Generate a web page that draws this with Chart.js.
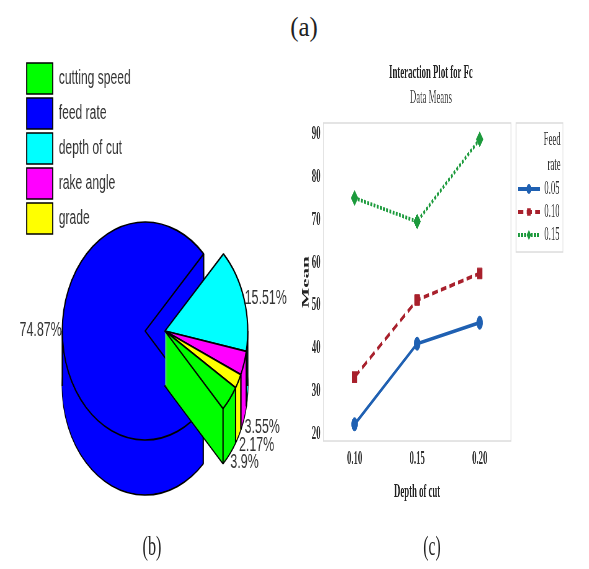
<!DOCTYPE html>
<html><head><meta charset="utf-8">
<script src="https://cdn.jsdelivr.net/npm/chart.js@4.4.1/dist/chart.umd.min.js"></script>
<style>
html,body{margin:0;padding:0;background:#fff;overflow:hidden;width:589px;height:569px;}
#wrap{position:relative;width:589px;height:569px;overflow:hidden;background:#fff;}
.panel{position:absolute;transform-origin:0 0;}
.panel canvas{display:block;}
.tag{position:absolute;font-family:"Liberation Serif","Times New Roman",serif;font-size:27px;color:#222;line-height:30px;white-space:nowrap;}
</style></head><body>
<div id="wrap">
 <div class="tag" style="left:304px;top:27px;transform:translate(-50%,-50%) scaleX(0.92)">(a)</div>
 <div class="panel" style="left:0;top:50px;transform:scaleX(0.62)"><canvas id="pie" width="480" height="608"></canvas></div>
 <div class="panel" style="left:292px;top:50px;transform:scaleX(0.46)"><canvas id="line" width="604" height="470"></canvas></div>
 <div class="tag" style="left:152px;top:546px;transform:translate(-50%,-50%) scaleX(0.6)">(b)</div>
 <div class="tag" style="left:432px;top:546px;transform:translate(-50%,-50%) scaleX(0.58)">(c)</div>
</div>
<script>
// ---------- data: panel (b) ----------
const factors = ['cutting speed', 'feed rate', 'depth of cut', 'rake angle', 'grade'];
const contributions = [3.9, 74.87, 15.51, 3.55, 2.17];
const factorColors = ['#00ff00', '#0000ff', '#00ffff', '#ff00ff', '#ffff00'];

// ---------- data: panel (c) ----------
const depthOfCut = ['0.10', '0.15', '0.20'];
const feedRates = ['0.05', '0.10', '0.15'];
const meanFeed005 = [22.3, 41.1, 46.0];
const meanFeed010 = [33.3, 51.3, 57.5];
const meanFeed015 = [75.1, 69.6, 88.8];
const meanTicks = [20, 30, 40, 50, 60, 70, 80, 90];

const SANS = '"Liberation Sans", Arial, sans-serif';
const SERIF = '"Liberation Serif", "Times New Roman", serif';

// ---------- 3D exploded pie drawing (uses Chart.js arc elements) ----------
const pie3d = {
  id: 'pie3d',
  beforeDatasetsDraw(chart, args, opts) {
    const ctx = chart.ctx;
    const meta = chart.getDatasetMeta(0);
    const els = meta.data;
    const depth = opts.depth, explode = opts.explode, k = opts.stretchX;
    const values = chart.data.datasets[0].data;
    let big = 0;
    values.forEach((v, i) => { if (v > values[big]) big = i; });
    const mid = el => (el.startAngle + el.endAngle) / 2;
    const rest = els.map((_, i) => i).filter(i => i !== big)
      .sort((a, b) => Math.sin(mid(els[a])) - Math.sin(mid(els[b])));
    const order = [big].concat(rest);
    const base = -depth / 2;
    const shift = i => (i === big ? -explode / 2 : explode / 2);
    const cx = els[0].x;
    ctx.save();
    ctx.translate(cx, 0); ctx.scale(k, 1); ctx.translate(-cx, 0);
    order.forEach(i => {
      const el = els[i];
      const dx = shift(i);
      const plain = Object.create(el);
      plain.options = Object.assign({}, el.options, { borderWidth: 0 });
      ctx.save(); ctx.translate(dx, base + depth); el.draw(ctx); ctx.restore();
      for (let d = depth - 1; d > 0; d--) {
        ctx.save(); ctx.translate(dx, base + d); plain.draw(ctx); ctx.restore();
      }
      const R = el.outerRadius, s = el.startAngle, e = el.endAngle;
      const angles = [s, e];
      [-Math.PI, 0, Math.PI, 2 * Math.PI, 3 * Math.PI].forEach(a => { if (a > s && a < e) angles.push(a); });
      ctx.save();
      ctx.strokeStyle = el.options.borderColor; ctx.lineWidth = el.options.borderWidth;
      angles.forEach(a => {
        const px = el.x + dx + Math.cos(a) * R, py = el.y + base + Math.sin(a) * R;
        ctx.beginPath(); ctx.moveTo(px, py); ctx.lineTo(px, py + depth); ctx.stroke();
      });
      ctx.restore();
      ctx.save(); ctx.translate(dx, base); el.draw(ctx); ctx.restore();
    });
    ctx.restore();
    // percentage labels
    ctx.save();
    ctx.font = opts.labelFont;
    ctx.fillStyle = opts.labelColor;
    ctx.textBaseline = 'middle';
    els.forEach((el, i) => {
      const a = mid(el), c = Math.cos(a), sn = Math.sin(a);
      const R = el.outerRadius;
      const px = cx + (el.x + shift(i) + c * R - cx) * k;
      const py = el.y + base + sn * R + (sn > 0.1 ? depth + 9 : 0);
      ctx.textAlign = c < -0.2 ? 'right' : 'left';
      ctx.fillText(values[i] + '%', px + (c < -0.2 ? -1 : 1), py);
    });
    ctx.restore();
    return false;
  }
};

new Chart(document.getElementById('pie'), {
  type: 'pie',
  data: {
    labels: factors,
    datasets: [{
      data: contributions,
      backgroundColor: factorColors,
      borderColor: '#000',
      borderWidth: 1.7,
      radius: 109,
      rotation: 121.4
    }]
  },
  options: {
    responsive: false,
    animation: false,
    layout: { padding: { left: 39, top: 9, right: 195, bottom: 0 } },
    plugins: {
      legend: {
        position: 'left', align: 'start', maxWidth: 176,
        labels: { boxWidth: 42, boxHeight: 31, padding: 4, color: '#333', font: { family: SANS, size: 19.5 } }
      },
      tooltip: { enabled: false },
      pie3d: { depth: 55, explode: 26, stretchX: 0.76 / 0.62, labelFont: '20px ' + SANS, labelColor: '#333' }
    }
  },
  plugins: [pie3d]
});

// ---------- interaction plot ----------
const BLUE = '#1f60b2', RED = '#a8202c', GREEN = '#1c9a3c', FRAME = '#dcdcdc';

function legendIcon(ds) {
  const c = document.createElement('canvas'); c.width = 59; c.height = 18;
  const g = c.getContext('2d');
  g.strokeStyle = ds.borderColor; g.fillStyle = ds.borderColor; g.lineWidth = ds.borderWidth;
  g.setLineDash(ds.borderDash || []);
  g.beginPath(); g.moveTo(11, 9); g.lineTo(59, 9); g.stroke();
  g.setLineDash([]);
  const r = 5, cx = 35, cy = 9;
  g.beginPath();
  if (ds.pointStyle === 'rect') g.rect(cx - r * 0.75, cy - r * 0.75, r * 1.5, r * 1.5);
  else if (ds.pointStyle === 'rectRot') { g.moveTo(cx, cy - r); g.lineTo(cx + r, cy); g.lineTo(cx, cy + r); g.lineTo(cx - r, cy); g.closePath(); }
  else g.arc(cx, cy, r, 0, Math.PI * 2);
  g.fill();
  return c;
}

const frame = {
  id: 'frame',
  beforeDatasetsDraw(chart) {
    const { ctx, chartArea: a, legend: l } = chart;
    ctx.save();
    ctx.strokeStyle = FRAME; ctx.lineWidth = 1.5;
    ctx.strokeRect(a.left, a.top, a.width, a.height);
    const hb = l.legendHitBoxes;
    if (hb && hb.length) {
      const last = hb[hb.length - 1];
      const bottom = last.top + last.height + 7.5;
      ctx.strokeRect(l.left + 11, l.top, (l.right - l.left) - 6, bottom - l.top);
    }
    ctx.restore();
  }
};

const lineDs = (label, data, color, dash, style, r) => ({
  label, data,
  borderColor: color, backgroundColor: color,
  pointBackgroundColor: color, pointBorderColor: color, pointBorderWidth: 1,
  borderWidth: 3.8, borderDash: dash, pointStyle: style, pointRadius: r,
  tension: 0, fill: false
});

new Chart(document.getElementById('line'), {
  type: 'line',
  data: {
    labels: depthOfCut,
    datasets: [
      lineDs(feedRates[0], meanFeed005, BLUE, [], 'circle', 6.5),
      lineDs(feedRates[1], meanFeed010, RED, [12, 7], 'rect', 7.5),
      lineDs(feedRates[2], meanFeed015, GREEN, [4, 3], 'rectRot', 7.5)
    ]
  },
  options: {
    responsive: false,
    animation: false,
    layout: { padding: { left: 20, right: 20, top: 0, bottom: 16.4 } },
    plugins: {
      title: { display: true, text: 'Interaction Plot for Fc', color: '#222',
        font: { family: SERIF, size: 19, weight: 'bold' }, padding: { top: 11.6, bottom: 0 } },
      subtitle: { display: true, text: 'Data Means', color: '#444',
        font: { family: SERIF, size: 19 }, padding: { top: 2.2, bottom: 13.6 } },
      legend: {
        position: 'right', align: 'start', fullSize: false, maxWidth: 108,
        title: { display: true, text: ['Feed', 'rate'], position: 'end', color: '#333',
          font: { family: SERIF, size: 19, lineHeight: 1.3 }, padding: { top: 8, bottom: 19.8 } },
        labels: {
          usePointStyle: true, pointStyleWidth: 59, padding: 4, color: '#333',
          font: { family: SERIF, size: 19 },
          generateLabels(chart) {
            const items = Chart.defaults.plugins.legend.labels.generateLabels(chart);
            items.forEach((it, i) => { it.pointStyle = legendIcon(chart.data.datasets[i]); it.lineDash = []; });
            return items;
          }
        }
      },
      tooltip: { enabled: false }
    },
    scales: {
      x: {
        type: 'category', offset: true,
        grid: { display: false, drawTicks: false }, border: { display: false },
        ticks: { color: '#333', padding: 7, maxRotation: 0, font: { family: SERIF, size: 19, weight: 'bold' } },
        title: { display: true, text: 'Depth of cut', color: '#222',
          font: { family: SERIF, size: 19, weight: 'bold' }, padding: { top: 3, bottom: 0 } }
      },
      y: {
        min: 18.4, max: 92.6,
        afterBuildTicks(scale) { scale.ticks = meanTicks.map(v => ({ value: v })); },
        afterFit(scale) { scale.width = 48; },
        grid: { display: false, drawTicks: false }, border: { display: false },
        ticks: { color: '#333', padding: 6, font: { family: SERIF, size: 19, weight: 'bold' } },
        title: { display: true, text: 'Mean', color: '#222',
          font: { family: SERIF, size: 21, weight: 'bold', lineHeight: 1 }, padding: { top: 0, bottom: 0 } }
      }
    }
  },
  plugins: [frame]
});
</script>
</body></html>
